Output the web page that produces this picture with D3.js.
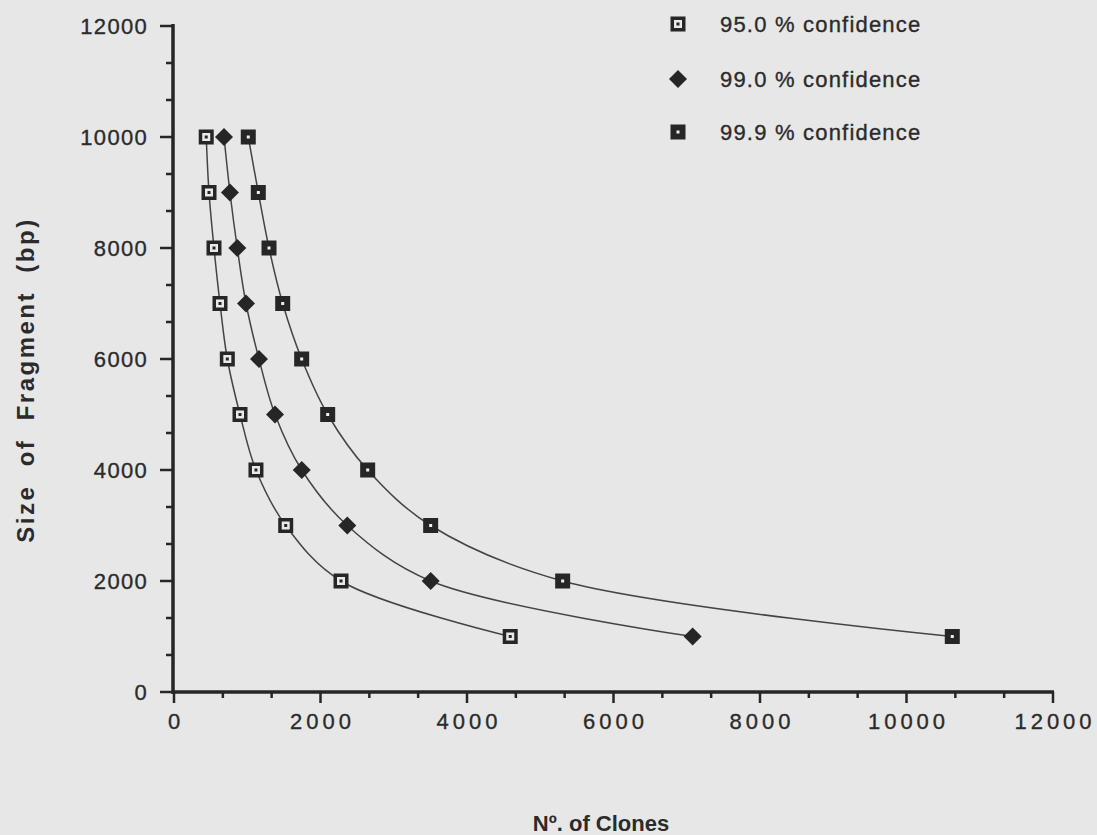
<!DOCTYPE html>
<html>
<head>
<meta charset="utf-8">
<script src="https://cdn.jsdelivr.net/npm/d3@7"></script>
<style>
  html, body { margin: 0; padding: 0; background: #e6e6e6; }
  svg { display: block; }
  text { font-family: "Liberation Sans", Arial, Helvetica, sans-serif; fill: #2b2b2b; }
</style>
</head>
<body>
<svg id="chart" width="1097" height="835"></svg>
<script>
// ---- data ----
const fragmentSizes = [10000, 9000, 8000, 7000, 6000, 5000, 4000, 3000, 2000, 1000];
const clones95  = [440, 478, 546, 628, 728, 901, 1119, 1525, 2280, 4590];
const clones99  = [683, 764, 864, 983, 1160, 1379, 1744, 2366, 3504, 7080];
const clones999 = [1014, 1151, 1297, 1484, 1743, 2098, 2644, 3504, 5306, 10625];
const seriesNames = ["95.0 % confidence", "99.0 % confidence", "99.9 % confidence"];
const seriesMarkers = ["openSquare", "diamond", "filledSquare"];
const xTickLabels = [0, 2000, 4000, 6000, 8000, 10000, 12000];
const yTickLabels = [0, 2000, 4000, 6000, 8000, 10000, 12000];
const xTitle = "Nº. of Clones";
const yTitle = "Size  of  Fragment  (bp)";

const svg = d3.select("#chart");
const W = 1097, H = 835;
svg.append("rect").attr("width", W).attr("height", H).attr("fill", "#e7e7e7");

const x = d3.scaleLinear().domain([0, 12000]).range([174, 1053]);
const y = d3.scaleLinear().domain([0, 12000]).range([692, 26]);

const ink = "#262626";
const textStroke = t => t.style("stroke", "#2b2b2b").style("stroke-width", "0.35px");

// ---- axes ----
const minorStep = 2000 / 3;
const minorTicks = d3.range(0, 12000 + 1, minorStep).map(v => Math.round(v));

const gx = svg.append("g");
gx.append("line").attr("x1", x(0) - 2).attr("x2", x(12000) + 1)
  .attr("y1", y(0)).attr("y2", y(0)).attr("stroke", ink).attr("stroke-width", 3.5);
gx.selectAll("line.tick").data(minorTicks).join("line")
  .attr("x1", d => x(d)).attr("x2", d => x(d))
  .attr("y1", y(0)).attr("y2", d => (d % 2000 === 0 ? y(0) + 11 : y(0) + 6))
  .attr("stroke", ink).attr("stroke-width", 2.5);
gx.selectAll("text").data(xTickLabels).join("text")
  .attr("x", d => x(d) + 2).attr("y", 729)
  .attr("text-anchor", "middle")
  .style("font-size", "22px").style("letter-spacing", "4px")
  .call(textStroke)
  .text(d => d);

const gy = svg.append("g");
gy.append("line").attr("x1", x(0) - 1).attr("x2", x(0) - 1)
  .attr("y1", y(12000) - 2).attr("y2", y(0) + 2).attr("stroke", ink).attr("stroke-width", 3.5);
gy.selectAll("line.tick").data(minorTicks).join("line")
  .attr("y1", d => y(d)).attr("y2", d => y(d))
  .attr("x1", x(0)).attr("x2", d => (d % 2000 === 0 ? x(0) - 14 : x(0) - 8))
  .attr("stroke", ink).attr("stroke-width", 2.5);
gy.selectAll("text").data(yTickLabels).join("text")
  .attr("x", 148).attr("y", d => y(d) + 8)
  .attr("text-anchor", "end")
  .style("font-size", "22px").style("letter-spacing", "1.3px")
  .call(textStroke)
  .text(d => d);

// ---- axis titles ----
svg.append("text").attr("x", 601).attr("y", 831)
  .attr("text-anchor", "middle")
  .style("font-size", "22px").style("font-weight", "bold")
  .style("white-space", "pre")
  .text(xTitle);
svg.append("text")
  .attr("transform", "translate(34,380) rotate(-90)")
  .attr("text-anchor", "middle")
  .style("font-size", "24px").style("font-weight", "bold")
  .style("letter-spacing", "2.5px")
  .style("white-space", "pre")
  .text(yTitle);

// ---- curves ----
const allSeries = [clones95, clones99, clones999].map((vals, i) => ({
  name: seriesNames[i],
  marker: seriesMarkers[i],
  points: vals.map((v, j) => ({ clones: v, size: fragmentSizes[j] }))
}));

const line = d3.line()
  .x(d => x(d.clones)).y(d => y(d.size))
  .curve(d3.curveCatmullRom.alpha(0.5));

svg.append("g").selectAll("path").data(allSeries).join("path")
  .attr("d", d => line(d.points))
  .attr("fill", "none").attr("stroke", "#444").attr("stroke-width", 1.5);

// ---- markers ----
function drawMarker(g, type, cx, cy) {
  const s = 15;
  if (type === "openSquare") {
    g.append("rect").attr("x", cx - s / 2).attr("y", cy - s / 2).attr("width", s).attr("height", s)
      .attr("fill", ink);
    g.append("rect").attr("x", cx - 4).attr("y", cy - 4).attr("width", 8).attr("height", 8)
      .attr("fill", "#e9e9e9");
    g.append("rect").attr("x", cx - 1.5).attr("y", cy - 1.5).attr("width", 3).attr("height", 3)
      .attr("fill", ink);
  } else if (type === "filledSquare") {
    g.append("rect").attr("x", cx - s / 2).attr("y", cy - s / 2).attr("width", s).attr("height", s)
      .attr("fill", ink);
    g.append("rect").attr("x", cx - 1.5).attr("y", cy - 1.5).attr("width", 3).attr("height", 3)
      .attr("fill", "#f0f0f0");
  } else {
    const r = 9;
    g.append("path").attr("d", `M${cx},${cy - r}L${cx + r},${cy}L${cx},${cy + r}L${cx - r},${cy}Z`)
      .attr("fill", ink);
  }
}

allSeries.forEach(s => {
  const g = svg.append("g");
  s.points.forEach(p => drawMarker(g, s.marker, x(p.clones), y(p.size)));
});

// ---- legend ----
const legendY = [24, 79, 132];
allSeries.forEach((s, i) => {
  const g = svg.append("g");
  drawMarker(g, s.marker, 678, legendY[i]);
  g.append("text").attr("x", 720).attr("y", legendY[i] + 8)
    .style("font-size", "22px").style("letter-spacing", "1.2px")
    .call(textStroke)
    .text(s.name);
});
</script>
</body>
</html>
